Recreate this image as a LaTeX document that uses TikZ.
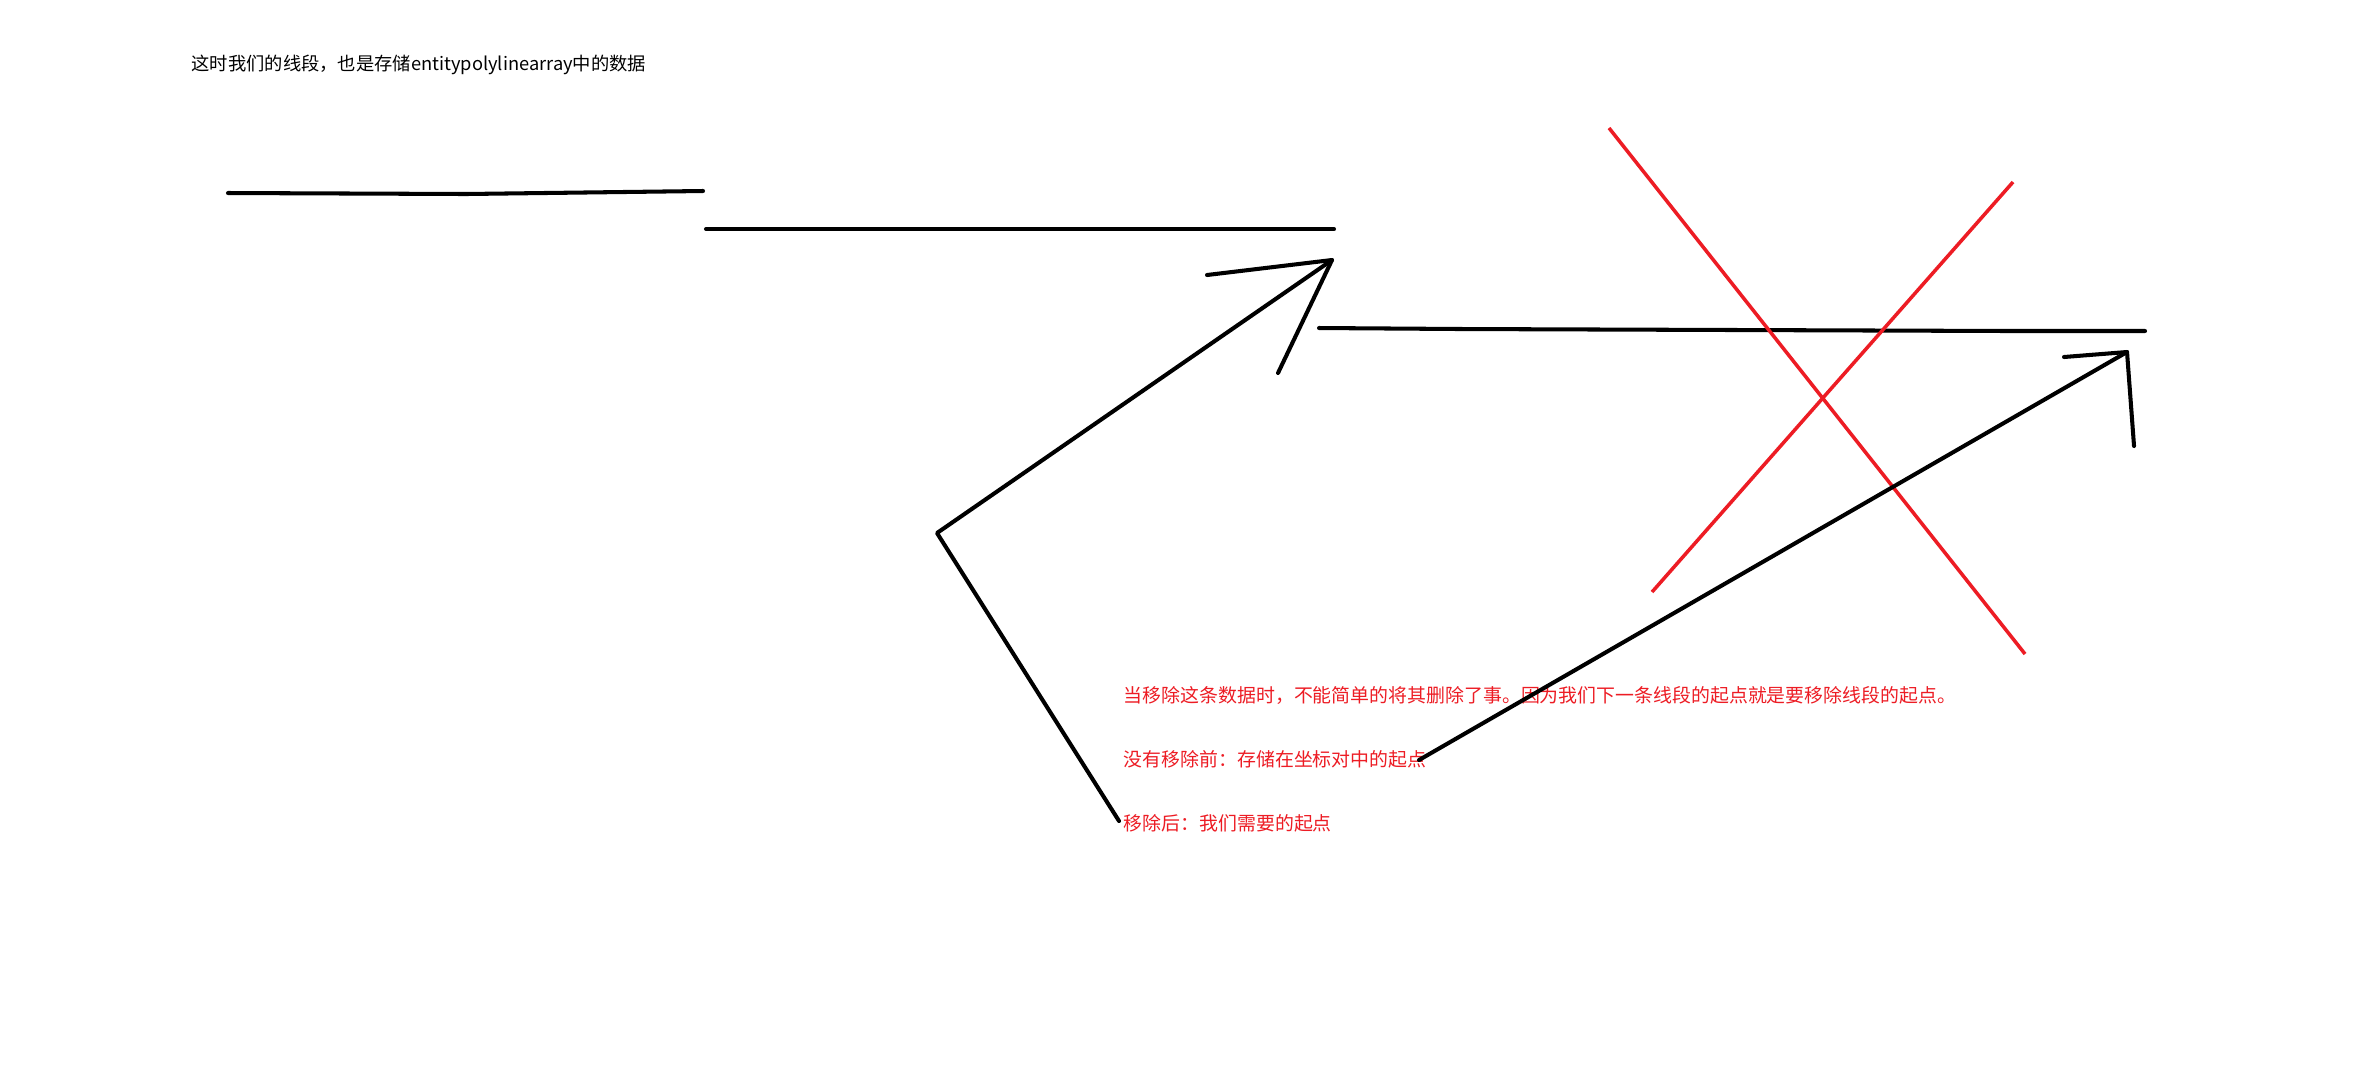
\documentclass[tikz,border=0pt]{standalone}
\usepackage{fontspec}
\usepackage{xcolor}
\newfontfamily\cjk{Noto Sans CJK SC}
\definecolor{paintred}{RGB}{237,28,36}
\usetikzlibrary{positioning}

\begin{document}
\begin{tikzpicture}[x=0.01cm,y=-0.01cm]
  \tikzset{
    stroke/.style={
      draw=black,
      line width=1.15pt,
      line cap=round,
      line join=round
    },
    cross/.style={
      draw=paintred,
      line width=1pt
    },
    note/.style={
      anchor=west,
      inner sep=0pt,
      font=\cjk\fontsize{5.38}{7}\selectfont
    }
  }
  \useasboundingbox[fill=white] (0,0) rectangle (2380,1075);

  % Title
  \node[note, font=\cjk\fontsize{5.2}{7}\selectfont] (title) at (191,65) {这时我们的线段，也是存储entitypolylinearray中的数据};

  % Segments
  \coordinate (s1a) at (228,193);
  \coordinate (s1b) at (466,194);
  \coordinate (s1c) at (703,191);
  \coordinate (s2a) at (706,229);
  \coordinate (s2b) at (1334,229);
  \coordinate (s3a) at (1319,328);
  \coordinate (s3b) at (1460,329);
  \coordinate (s3c) at (2010,331);
  \coordinate (s3d) at (2145,331);
  \draw[stroke] (s1a) -- (s1b) -- (s1c);
  \draw[stroke] (s2a) -- (s2b);
  \draw[stroke] (s3a) -- (s3b) -- (s3c) -- (s3d);

  % Red cross
  \coordinate (x1a) at (1609,128);
  \coordinate (x1b) at (2025,654);
  \coordinate (x2a) at (2013,182);
  \coordinate (x2b) at (1652,592);
  \draw[cross] (x1a) -- (x1b);
  \draw[cross] (x2a) -- (x2b);

  % Notes
  \node[note, text=paintred] (why) at (1123,695) {当移除这条数据时，不能简单的将其删除了事。因为我们下一条线段的起点就是要移除线段的起点。};
  \node[note, text=paintred] (before) at (1123,759) {没有移除前：存储在坐标对中的起点};
  \node[note, text=paintred] (after) at (1123,823) {移除后：我们需要的起点};

  % Arrow to the new start
  \coordinate (bend) at (937,533);
  \coordinate (tipA) at (1332,260);
  \coordinate (wingA1) at (1207,275);
  \coordinate (wingA2) at (1278,373);
  \coordinate (tailA) at (1119,821);
  \draw[stroke] (tailA) -- (bend) -- (tipA);
  \draw[stroke] (wingA1) -- (tipA) -- (wingA2);

  % Arrow to the old start
  \coordinate (tailB) at (1419,760);
  \coordinate (tipB) at (2127,352);
  \coordinate (wingB1) at (2064,357);
  \coordinate (wingB2) at (2134,446);
  \draw[stroke] (tailB) -- (tipB);
  \draw[stroke] (wingB1) -- (tipB) -- (wingB2);
\end{tikzpicture}
\end{document}
